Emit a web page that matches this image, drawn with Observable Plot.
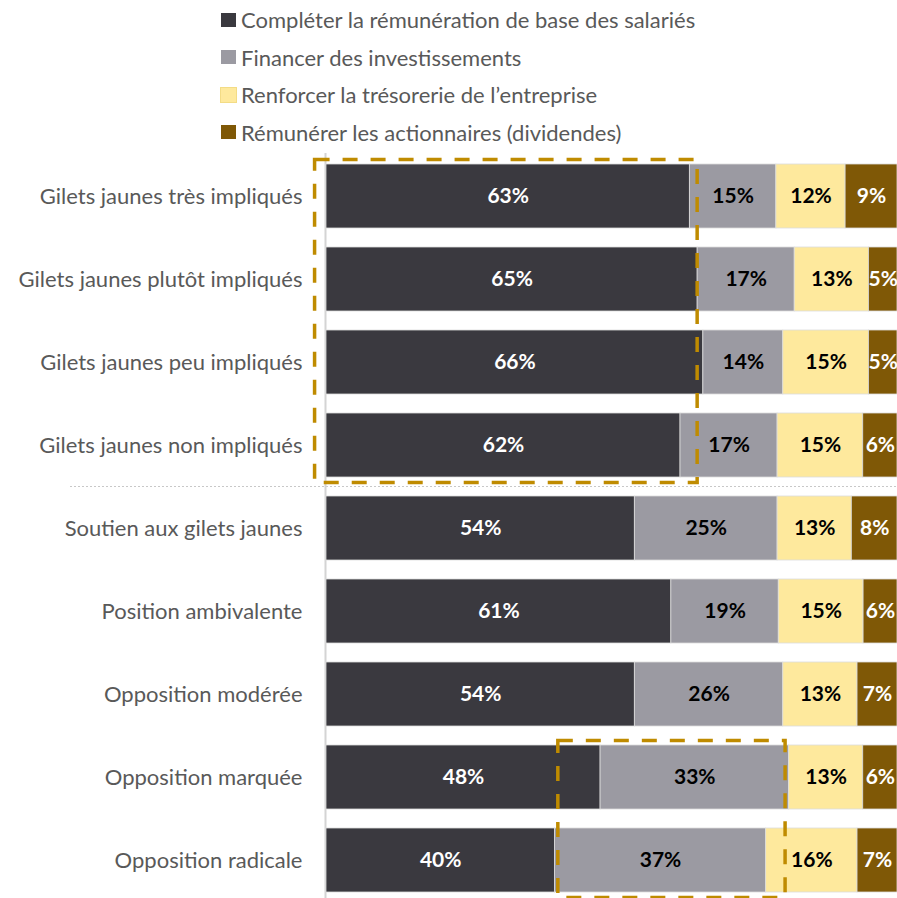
<!DOCTYPE html>
<html>
<head>
<meta charset="utf-8">
<script src="https://cdn.jsdelivr.net/npm/d3@7"></script>
<script src="https://cdn.jsdelivr.net/npm/@observablehq/plot@0.6"></script>
<style>
  html, body { margin: 0; padding: 0; background: #fff; overflow: hidden; width: 897px; height: 898px; }
  #legend { position: absolute; left: 221px; top: 1px; font-family: Lato, sans-serif; font-size: 22px; color: #595959; }
  #legend .item { height: 37.5px; line-height: 37.5px; display: flex; align-items: center; white-space: nowrap; }
  #legend .sw { width: 15px; height: 14px; margin-right: 5px; flex: none; }
  #chart { position: absolute; left: 0; top: 150px; }
</style>
</head>
<body>
<div id="legend"></div>
<div id="chart"></div>
<script>
// ---- data ----
const groups = [
  "Gilets jaunes très impliqués",
  "Gilets jaunes plutôt impliqués",
  "Gilets jaunes peu impliqués",
  "Gilets jaunes non impliqués",
  "Soutien aux gilets jaunes",
  "Position ambivalente",
  "Opposition modérée",
  "Opposition marquée",
  "Opposition radicale"
];
const series = [
  "Compléter la rémunération de base des salariés",
  "Financer des investissements",
  "Renforcer la trésorerie de l’entreprise",
  "Rémunérer les actionnaires (dividendes)"
];
const salaires        = [63, 65, 66, 62, 54, 61, 54, 48, 40];
const investissements = [15, 17, 14, 17, 25, 19, 26, 33, 37];
const tresorerie      = [12, 13, 15, 15, 13, 15, 13, 13, 16];
const dividendes      = [9, 5, 5, 6, 8, 6, 7, 6, 7];
const colors = ["#3a393f", "#9b9aa2", "#fee99d", "#7f5806"];
const labelColors = ["#ffffff", "#000000", "#000000", "#ffffff"];
// highlighted blocks (group range, share range)
const highlights = [
  {from: "Gilets jaunes très impliqués", to: "Gilets jaunes non impliqués", x1: -0.02, x2: 0.65},
  {from: "Opposition marquée", to: "Opposition radicale", x1: 0.406, x2: 0.804}
];
const separatorAfter = "Gilets jaunes non impliqués";

// ---- table ----
const valuesBySeries = [salaires, investissements, tresorerie, dividendes];
const data = [];
groups.forEach((g, i) => {
  series.forEach((s, j) => {
    data.push({group: g, series: s, si: j, value: valuesBySeries[j][i]});
  });
});

// ---- legend ----
const legend = document.getElementById("legend");
series.forEach((s, j) => {
  const item = document.createElement("div");
  item.className = "item";
  const sw = document.createElement("span");
  sw.className = "sw";
  sw.style.background = colors[j];
  if (j === 2) sw.style.outline = "1px solid #f3dc86";
  const t = document.createElement("span");
  t.textContent = s;
  item.appendChild(sw);
  item.appendChild(t);
  legend.appendChild(item);
});

// ---- annotation marks (use Plot's scales) ----
function bandOf(scales, g) {
  const y = scales.y;
  let bw = y.bandwidth;
  if (typeof bw === "function") bw = bw();
  return {y0: y(g), bw};
}
const highlightMark = (index, scales) => {
  const g = d3.create("svg:g");
  highlights.forEach(h => {
    const a = bandOf(scales, h.from), b = bandOf(scales, h.to);
    const top = a.y0 - 4.5, bottom = b.y0 + b.bw + 5.5;
    const left = scales.x(h.x1), right = scales.x(h.x2);
    g.append("rect")
      .attr("x", left).attr("y", top)
      .attr("width", right - left).attr("height", bottom - top)
      .attr("fill", "none").attr("stroke", "#bf8b00")
      .attr("stroke-width", 3.5).attr("stroke-dasharray", "15 13");
  });
  return g.node();
};
const separatorMark = (index, scales) => {
  const i = groups.indexOf(separatorAfter);
  const a = bandOf(scales, groups[i]), b = bandOf(scales, groups[i + 1]);
  const yy = (a.y0 + a.bw + b.y0) / 2;
  const g = d3.create("svg:g");
  g.append("line")
    .attr("x1", scales.x(0) - 256).attr("x2", scales.x(1))
    .attr("y1", yy).attr("y2", yy)
    .attr("stroke", "#c8c8c8").attr("stroke-width", 1)
    .attr("stroke-dasharray", "2 2");
  return g.node();
};

const stackOpts = {x: "value", y: "group", z: "series", offset: "normalize"};

const chart = Plot.plot({
  width: 897,
  height: 754,
  marginLeft: 326,
  marginRight: 0,
  marginTop: 3,
  marginBottom: 0,
  style: {fontFamily: "Lato, sans-serif", fontSize: "22px", background: "transparent"},
  x: {domain: [0, 1], axis: null},
  y: {domain: groups, paddingInner: 0.227, paddingOuter: 0.1135, label: null},
  color: {domain: series, range: colors},
  marks: [
    separatorMark,
    Plot.ruleX([0], {stroke: "#d4d4d4", strokeWidth: 2, dx: -1}),
    Plot.barX(data, Plot.stackX({...stackOpts, fill: "series", stroke: "#dcdcdc", strokeWidth: 0.8})),
    ...series.map((s, j) => Plot.text(data, Plot.filter(d => d.si === j, Plot.stackX({
      ...stackOpts,
      text: d => d.value + "%",
      fill: labelColors[j],
      fontWeight: "bold",
      fontSize: 21
    })))),
    Plot.axisY({tickSize: 0, tickPadding: 24, fontSize: 22, color: "#595959", label: null}),
    highlightMark
  ]
});
document.getElementById("chart").appendChild(chart);
</script>
</body>
</html>
